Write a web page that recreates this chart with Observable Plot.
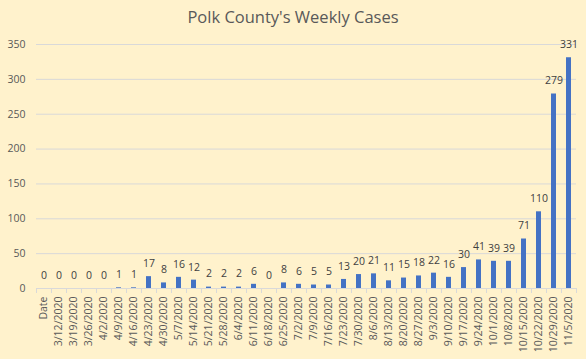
<!DOCTYPE html>
<html>
<head>
<meta charset="utf-8">
<script src="https://cdn.jsdelivr.net/npm/d3@7"></script>
<script src="https://cdn.jsdelivr.net/npm/@observablehq/plot@0.6"></script>
<style>
  html, body { margin: 0; padding: 0; background: #FFF2CC; }
  #wrap { width: 586px; height: 359px; background: #FFF2CC; overflow: hidden; }
  #title { height: 30px; box-sizing: border-box; padding-top: 4px; line-height: 26px; text-align: center;
           font-family: "Open Sans", sans-serif; font-size: 16.5px; color: #595959; }
</style>
</head>
<body>
<div id="wrap">
  <div id="title">Polk County's Weekly Cases</div>
  <div id="chart"></div>
</div>
<script>
const weeks = ["Date","3/12/2020","3/19/2020","3/26/2020","4/2/2020","4/9/2020","4/16/2020","4/23/2020","4/30/2020","5/7/2020","5/14/2020","5/21/2020","5/28/2020","6/4/2020","6/11/2020","6/18/2020","6/25/2020","7/2/2020","7/9/2020","7/16/2020","7/23/2020","7/30/2020","8/6/2020","8/13/2020","8/20/2020","8/27/2020","9/3/2020","9/10/2020","9/17/2020","9/24/2020","10/1/2020","10/8/2020","10/15/2020","10/22/2020","10/29/2020","11/5/2020"];
const cases = [0,0,0,0,0,1,1,17,8,16,12,2,2,2,6,0,8,6,5,5,13,20,21,11,15,18,22,16,30,41,39,39,71,110,279,331];
const yTicks = [0,50,100,150,200,250,300,350];

const data = weeks.map((w, i) => ({week: w, cases: cases[i]}));
const font = "Open Sans, sans-serif";

const chart = Plot.plot({
  width: 586,
  height: 329,
  marginTop: 14,
  marginBottom: 71,
  marginLeft: 36,
  marginRight: 10,
  style: {background: "#FFF2CC", fontFamily: font, fontSize: "10.5px"},
  x: {type: "band", domain: weeks, paddingInner: 0.686, paddingOuter: 0.343, label: null},
  y: {domain: [0, 350], label: null},
  marks: [
    Plot.gridY(yTicks, {stroke: "#D9D9D9", strokeOpacity: 1, strokeWidth: 1}),
    Plot.ruleY([0], {stroke: "#D9D9D9", strokeWidth: 1}),
    Plot.barY(data, {x: "week", y: "cases", fill: "#4472C4"}),
    Plot.text(data, {x: "week", y: "cases", text: d => String(d.cases), dy: -13, fill: "#404040", fontSize: 10.5}),
    Plot.axisY(yTicks, {tickSize: 0, tickPadding: 11, fill: "#595959", fontSize: 10.5, tickFormat: d => String(d)}),
    Plot.axisX({tickSize: 0, tickPadding: 8, tickRotate: -90, fill: "#595959", fontSize: 10.5}),
    Plot.axisX({ticks: weeks, tickSize: 5, tickFormat: () => "", stroke: "#D9D9D9", dx: -7.5}),
    Plot.axisX({ticks: weeks.slice(-1), tickSize: 5, tickFormat: () => "", stroke: "#D9D9D9", dx: 7.5})
  ]
});
document.getElementById("chart").appendChild(chart);
</script>
</body>
</html>
